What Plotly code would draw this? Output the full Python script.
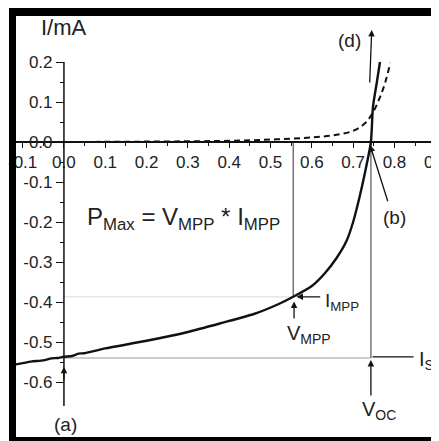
import plotly.graph_objects as go

# ---- data ----
v_light = [-0.116, -0.08, -0.05, -0.03, -0.015, 0.0, 0.02, 0.035, 0.05, 0.1, 0.2, 0.3, 0.38, 0.46, 0.52,
           0.555, 0.6, 0.63, 0.66, 0.685, 0.70, 0.715, 0.728, 0.743, 0.748, 0.757, 0.765]
i_light = [-0.556, -0.549, -0.546, -0.541, -0.540, -0.537, -0.535, -0.529, -0.528, -0.516, -0.497, -0.475,
           -0.453, -0.430, -0.405, -0.387, -0.36, -0.33, -0.29, -0.245, -0.20, -0.14, -0.08, 0.0, 0.088,
           0.147, 0.200]

v_dark = [0.0, 0.2, 0.4, 0.5, 0.58, 0.62, 0.66, 0.70, 0.73, 0.75, 0.765, 0.778, 0.79]
i_dark = [0.0, 0.001, 0.003, 0.006, 0.010, 0.013, 0.018, 0.028, 0.048, 0.078, 0.112, 0.150, 0.198]

V_MPP, I_MPP = 0.555, -0.387
V_OC, I_SC = 0.743, -0.54

x_ticks = [-0.1, 0.0, 0.1, 0.2, 0.3, 0.4, 0.5, 0.6, 0.7, 0.8, 0.9]
x_labels = ["-0.1", "0.0", "0.1", "0.2", "0.3", "0.4", "0.5", "0.6", "0.7", "0.8", "0.9"]
y_ticks = [-0.6, -0.5, -0.4, -0.3, -0.2, -0.1, 0.0, 0.1, 0.2]
y_labels = ["-0.6", "-0.5", "-0.4", "-0.3", "-0.2", "-0.1", "0.0", "0.1", "0.2"]

XR = [-0.116, 0.903]
YR = [-0.7375, 0.315]

FONT = "Liberation Sans, Arial, sans-serif"
TXT = "#222"

fig = go.Figure()

# guide lines
fig.add_trace(go.Scatter(x=[0, V_MPP], y=[I_MPP, I_MPP], mode="lines",
                         line=dict(color="#dcdcdc", width=1), hoverinfo="skip"))
fig.add_trace(go.Scatter(x=[V_MPP, V_MPP], y=[0, I_MPP], mode="lines",
                         line=dict(color="#555", width=1.2), hoverinfo="skip"))
fig.add_trace(go.Scatter(x=[0, V_OC], y=[I_SC, I_SC], mode="lines",
                         line=dict(color="#9a9a9a", width=1.2), hoverinfo="skip"))
fig.add_trace(go.Scatter(x=[V_OC, V_OC], y=[0, I_SC], mode="lines",
                         line=dict(color="#777", width=1.5), hoverinfo="skip"))

# curves
fig.add_trace(go.Scatter(x=v_dark, y=i_dark, mode="lines",
                         line=dict(color="#111", width=2, dash="6px,4px", shape="spline"),
                         hoverinfo="skip"))
fig.add_trace(go.Scatter(x=v_light, y=i_light, mode="lines",
                         line=dict(color="#111", width=2.4, shape="spline", smoothing=0.6),
                         hoverinfo="skip"))

xpos = (0 - YR[0]) / (YR[1] - YR[0])
ypos = (0 - XR[0]) / (XR[1] - XR[0])

# page body adds an 8px offset, so the plot area (screen 16..437) starts at 8 in the figure
fig.update_layout(
    width=439, height=441,
    margin=dict(l=8, r=10, t=8, b=12),
    paper_bgcolor="white", plot_bgcolor="white",
    showlegend=False,
    font=dict(family=FONT, color=TXT),
    xaxis=dict(range=XR, anchor="free", position=xpos, showgrid=False, zeroline=False,
               automargin=False, ticklabeloverflow="allow",
               showline=True, linecolor="#111", linewidth=1.5,
               tickvals=x_ticks, ticktext=x_labels, ticks="outside", ticklen=5,
               tickcolor="#111", tickfont=dict(size=17, family=FONT, color=TXT),
               minor=dict(tickvals=[t + 0.05 for t in x_ticks], ticklen=3, ticks="outside",
                          tickcolor="#111")),
    yaxis=dict(range=YR, anchor="free", position=ypos, showgrid=False, zeroline=False,
               automargin=False, ticklabeloverflow="allow",
               showline=False,
               tickvals=y_ticks, ticktext=y_labels, ticks="outside", ticklen=8,
               tickcolor="#111", tickfont=dict(size=17, family=FONT, color=TXT),
               minor=dict(tickvals=[t + 0.05 for t in y_ticks[:-1]], ticklen=4, ticks="outside",
                          tickcolor="#111")),
)

# y axis line from 0.2 down
fig.add_shape(type="line", x0=0, x1=0, y0=0.2, y1=-0.66, xref="x", yref="y",
              line=dict(color="#111", width=1.5))

# frame (screen pixel -> paper fraction of the plot area at screen 16..437)
def px_x(p):
    return (p - 16) / 421.0

def px_y(p):
    return (437 - p) / 421.0

fig.add_shape(type="rect", xref="paper", yref="paper", x0=px_x(9), x1=px_x(16),
              y0=px_y(441), y1=px_y(8), fillcolor="black", line=dict(width=0))
fig.add_shape(type="rect", xref="paper", yref="paper", x0=px_x(9), x1=px_x(437),
              y0=px_y(16), y1=px_y(8), fillcolor="black", line=dict(width=0))
fig.add_shape(type="rect", xref="paper", yref="paper", x0=px_x(9), x1=px_x(437),
              y0=px_y(441), y1=px_y(437), fillcolor="black", line=dict(width=0))
fig.add_shape(type="line", xref="paper", yref="paper", x0=px_x(437.5), x1=px_x(437.5),
              y0=px_y(441), y1=px_y(8), line=dict(color="#999", width=1))
fig.add_shape(type="line", xref="paper", yref="paper", x0=px_x(8), x1=px_x(438),
              y0=px_y(7.5), y1=px_y(7.5), line=dict(color="#999", width=1))

# arrows
def arrow(x, y, ax, ay, head=2, size=1.0):
    fig.add_annotation(x=x, y=y, ax=ax, ay=ay, xref="x", yref="y", axref="x", ayref="y",
                       text="", showarrow=True, arrowhead=head, arrowsize=size,
                       arrowwidth=1.3, arrowcolor="#111")

arrow(0.745, 0.28, 0.740, 0.145)            # (d)
arrow(0.741, -0.008, 0.785, -0.152)         # (b)
arrow(0.0, -0.562, 0.0, -0.60)              # (a)
arrow(V_MPP + 0.008, I_MPP, 0.624, I_MPP)   # I_MPP
arrow(V_MPP + 0.002, I_MPP - 0.012, V_MPP + 0.002, -0.445)  # V_MPP
arrow(V_OC, I_SC - 0.005, V_OC, -0.6375)    # V_OC
arrow(V_OC + 0.004, I_SC + 0.003, 0.85, I_SC + 0.003, head=0)  # I_SC

def label(x, y, text, size, xanchor="center"):
    fig.add_annotation(x=x, y=y, xref="x", yref="y", text=text, showarrow=False,
                       xanchor=xanchor, yanchor="middle",
                       font=dict(size=size, family=FONT, color=TXT))

label(0.0, 0.2875, "I/mA", 22)
label(0.69, 0.255, "(d)", 19)
label(0.801, -0.1875, "(b)", 19)
label(0.005, -0.705, "(a)", 19)
label(0.052, -0.19, "P<sub>Max</sub> = V<sub>MPP</sub> * I<sub>MPP</sub>", 24, "left")
label(0.627, -0.40, "I<sub>MPP</sub>", 19, "left")
label(0.535, -0.48, "V<sub>MPP</sub>", 20, "left")
label(0.717, -0.672, "V<sub>OC</sub>", 20, "left")
label(0.855, -0.545, "I<sub>SC</sub>", 20, "left")

fig.write_html("out.html")
